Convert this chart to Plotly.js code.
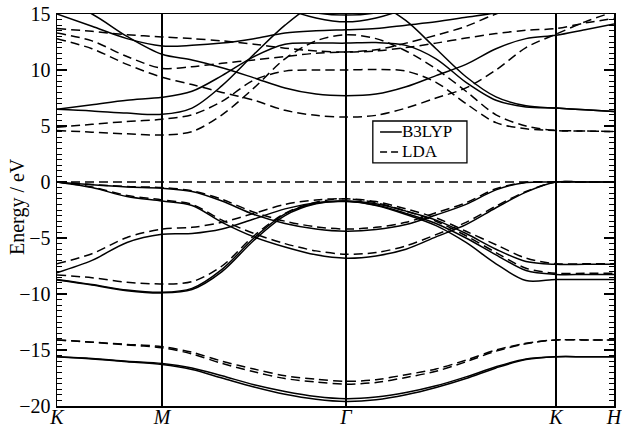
<!DOCTYPE html>
<html>
<head>
<meta charset="utf-8">
<script src="https://cdn.plot.ly/plotly-3.0.1.min.js"></script>
<style>html,body{margin:0;padding:0;background:#fff;}#chart{width:622px;height:428px;}</style>
</head>
<body>
<div id="chart"></div>
<script>
// ---- k-path (distance along path) ----
const kTickPos = [0, 105, 289, 499, 557];
const kTickText = ['<i>K</i>', '<i>M</i>', '<i>Γ</i>', '<i>K</i>', '<i>H</i>'];
const kGrid = [0, 35, 70, 105, 135, 165, 197, 228, 259, 289, 319, 349, 379, 409, 439, 469, 499, 528, 557];
const fermiLevel = 0;

// ---- B3LYP bands (eV) ----
const b3lypBands = {
  s1:   [-15.6, -15.75, -16.0, -16.2, -16.6, -17.3, -18.1, -18.7, -19.15, -19.35, -19.2, -18.8, -18.2, -17.4, -16.5, -15.8, -15.6, -15.6, -15.6],
  s2:   [-15.6, -15.8, -16.05, -16.3, -16.75, -17.5, -18.3, -18.95, -19.4, -19.6, -19.45, -19.0, -18.35, -17.55, -16.6, -15.85, -15.6, -15.6, -15.6],
  sig1: [-8.1, -7.0, -5.4, -4.67, -4.6, -4.2, -3.3, -2.4, -1.85, -1.7, -1.95, -2.6, -3.4, -4.6, -6.0, -7.1, -7.35, -7.35, -7.35],
  sig2: [-8.75, -9.2, -9.7, -9.9, -9.6, -8.0, -5.2, -3.0, -1.95, -1.7, -2.1, -2.9, -3.9, -5.4, -7.3, -8.8, -8.7, -8.7, -8.7],
  sig3: [-8.7, -9.15, -9.65, -9.85, -9.5, -7.8, -5.0, -2.85, -1.9, -1.75, -2.05, -2.8, -3.7, -5.0, -6.5, -7.9, -8.25, -8.25, -8.25],
  piU:  [0, -0.25, -0.45, -0.56, -0.85, -1.7, -2.9, -3.7, -4.2, -4.4, -4.25, -3.8, -2.95, -2.0, -0.7, -0.05, 0, 0, 0],
  piL:  [0, -0.5, -1.3, -1.7, -2.1, -3.6, -4.9, -5.8, -6.5, -6.8, -6.6, -6.0, -4.9, -3.8, -2.3, -0.9, 0, 0, 0],
  c1:   [6.5, 6.35, 6.15, 6.04, 6.6, 8.6, 11.4, 14.0, 16.0, 16.8, 16.0, 14.4, 11.9, 9.4, 7.6, 6.8, 6.6, 6.45, 6.3],
  c2:   [6.5, 6.9, 7.3, 7.56, 8.1, 9.5, 11.2, 12.3, 12.4, 12.4, 12.45, 12.2, 11.0, 8.9, 7.3, 6.7, 6.6, 6.45, 6.3],
  c3:   [16.3, 15.0, 13.0, 11.4, 10.9, 10.2, 9.3, 8.4, 7.85, 7.7, 7.85, 8.5, 9.5, 10.5, 11.9, 12.8, 13.1, 13.6, 14.1],
  c4:   [15.0, 13.9, 12.8, 12.15, 12.2, 12.4, 12.8, 13.3, 13.5, 13.6, 13.7, 14.0, 14.3, 14.7, 15.1, 15.6, 15.9, 16.2, 16.4],
  c5:   [null, null, null, null, null, null, 17.2, 15.8, 15.1, 14.9, 15.1, 15.8, 17.2, null, null, null, null, null, null],
  c6:   [null, null, null, null, null, null, 16.8, 15.5, 14.65, 14.3, 14.65, 15.5, 16.8, null, null, null, null, null, null]
};

// ---- LDA bands (eV) ----
const ldaBands = {
  s1:   [-14.1, -14.3, -14.5, -14.7, -15.2, -16.0, -16.7, -17.3, -17.6, -17.8, -17.65, -17.2, -16.7, -15.9, -15.0, -14.4, -14.1, -14.1, -14.1],
  s2:   [-14.1, -14.3, -14.55, -14.8, -15.35, -16.2, -16.95, -17.55, -17.85, -18.05, -17.9, -17.45, -16.9, -16.05, -15.1, -14.45, -14.1, -14.1, -14.1],
  sig1: [-7.3, -6.4, -4.95, -4.2, -4.05, -3.6, -2.8, -2.0, -1.6, -1.5, -1.75, -2.4, -3.2, -4.4, -5.6, -6.8, -7.3, -7.3, -7.3],
  sig2: [-8.3, -8.55, -8.95, -9.1, -8.9, -7.5, -4.8, -2.8, -1.8, -1.5, -1.85, -2.6, -3.5, -4.8, -6.3, -7.7, -8.15, -8.15, -8.15],
  piU:  [0, -0.22, -0.4, -0.5, -0.78, -1.55, -2.7, -3.5, -4.0, -4.2, -4.05, -3.6, -2.75, -1.85, -0.6, -0.03, 0, 0, 0],
  piL:  [0, -0.45, -1.2, -1.6, -2.0, -3.4, -4.6, -5.5, -6.15, -6.45, -6.3, -5.7, -4.7, -3.6, -2.15, -0.85, 0, 0, 0],
  c1:   [4.6, 4.45, 4.3, 4.2, 4.5, 6.0, 8.4, 11.0, 12.6, 13.15, 12.8, 11.7, 10.1, 8.1, 6.0, 5.0, 4.6, 4.55, 4.5],
  c2:   [4.88, 5.15, 5.4, 5.6, 6.0, 7.2, 9.1, 9.9, 10.0, 10.0, 10.05, 9.9, 8.9, 7.0, 5.3, 4.75, 4.6, 4.55, 4.5],
  c3:   [12.8, 11.9, 10.5, 9.35, 8.7, 8.0, 7.3, 6.4, 5.95, 5.8, 5.95, 6.6, 7.5, 8.4, 10.0, 12.0, 13.2, 14.3, 15.2],
  c4:   [13.3, 12.6, 11.2, 10.15, 10.3, 10.6, 10.9, 11.2, 11.5, 11.6, 11.8, 12.4, 13.1, 13.9, 15.0, 15.8, 16.3, 16.6, 16.8],
  c5:   [13.7, 13.45, 13.15, 12.95, 12.8, 12.6, 12.3, 11.95, 11.7, 11.6, 11.7, 12.0, 12.4, 12.85, 13.25, 13.55, 13.7, 14.2, 14.6]
};

const seriesNames = ['B3LYP', 'LDA'];
const seriesDash = ['solid', '9px,5px'];

const traces = [];
// Fermi level reference
traces.push({
  x: [kTickPos[0], kTickPos[kTickPos.length - 1]], y: [fermiLevel, fermiLevel],
  mode: 'lines', line: {color: '#000', width: 1.3, dash: '9px,5px'},
  showlegend: false, hoverinfo: 'skip'
});
function addSet(bands, name, dash) {
  Object.keys(bands).forEach(key => {
    traces.push({
      x: kGrid, y: bands[key], name: name, legendgroup: name,
      showlegend: false, mode: 'lines', connectgaps: false,
      line: {color: '#000', width: 1.5, dash: dash, shape: 'spline', smoothing: 0.9}
    });
  });
}
addSet(b3lypBands, seriesNames[0], seriesDash[0]);
addSet(ldaBands, seriesNames[1], seriesDash[1]);

// ---- legend box (drawn as layout decoration, paper coords) ----
const legBox = {x0: 0.567, x1: 0.736, y0: 0.620, y1: 0.727};
const legRowY = [0.699, 0.648];
const legLineX = [0.580, 0.619];

const shapes = [{
  type: 'rect', xref: 'paper', yref: 'paper',
  x0: legBox.x0, x1: legBox.x1, y0: legBox.y0, y1: legBox.y1,
  line: {color: '#000', width: 1.3}, fillcolor: '#fff', layer: 'above'
}];
const font = 'Liberation Serif, Times New Roman, serif';
const annotations = [{
  text: 'Energy / eV', xref: 'paper', yref: 'paper', x: -0.072, y: 0.51,
  xanchor: 'center', yanchor: 'middle', textangle: -90, showarrow: false,
  font: {family: font, size: 20, color: '#000'}
}];
seriesNames.forEach((nm, i) => {
  shapes.push({
    type: 'line', xref: 'paper', yref: 'paper',
    x0: legLineX[0], x1: legLineX[1], y0: legRowY[i], y1: legRowY[i],
    line: {color: '#000', width: 1.5, dash: seriesDash[i] === 'solid' ? 'solid' : '7px,4px'}, layer: 'above'
  });
  annotations.push({
    text: nm, xref: 'paper', yref: 'paper', x: legLineX[1], y: legRowY[i],
    xanchor: 'left', yanchor: 'middle', showarrow: false, borderpad: 0, xshift: -1,
    font: {family: font, size: 17, color: '#000'}
  });
});

const layout = {
  width: 622, height: 428,
  margin: {l: 57, r: 8, t: 14, b: 22},
  paper_bgcolor: '#fff', plot_bgcolor: '#fff',
  font: {family: font, size: 20, color: '#000'},
  xaxis: {
    range: [0, 557], tickmode: 'array', tickvals: kTickPos, ticktext: kTickText,
    ticks: '', showgrid: true, gridcolor: '#000', gridwidth: 1.5, zeroline: false,
    showline: true, linecolor: '#000', linewidth: 1.5, mirror: true,
    tickfont: {family: font, size: 20}, ticklabelstandoff: -8, ticklabeloverflow: 'allow'
  },
  yaxis: {
    range: [-20, 15], tickmode: 'linear', tick0: 0, dtick: 5,
    ticks: 'inside', ticklen: 10, tickwidth: 1.3, tickcolor: '#000', mirror: 'ticks',
    showline: true, linecolor: '#000', linewidth: 1.5, showgrid: false, zeroline: false,
    tickfont: {family: font, size: 20}, ticklabelstandoff: 1,
    minor: {ticks: 'inside', ticklen: 5, dtick: 0.5, tick0: 0, tickcolor: '#000', tickwidth: 1, showgrid: false}
  },
  shapes: shapes,
  annotations: annotations,
  showlegend: false
};

Plotly.newPlot('chart', traces, layout, {staticPlot: true, displayModeBar: false});
</script>
</body>
</html>
